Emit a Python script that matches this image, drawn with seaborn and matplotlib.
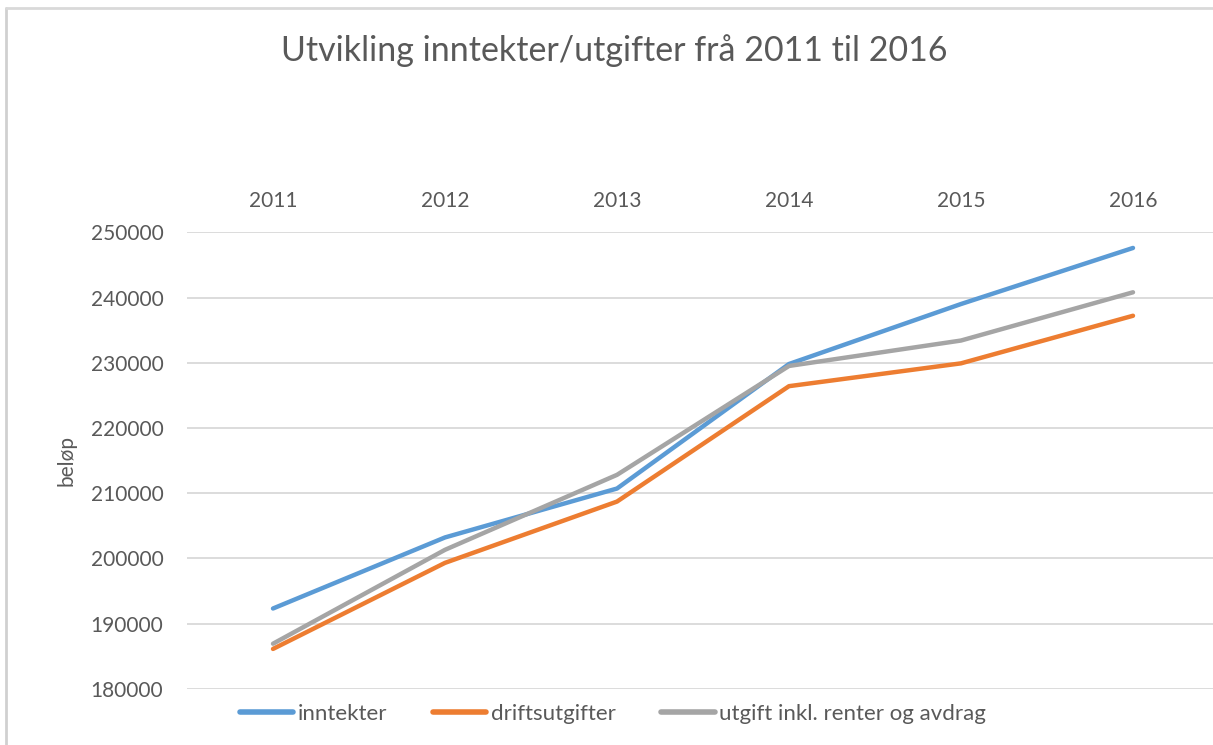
import matplotlib
matplotlib.use("Agg")
import matplotlib.pyplot as plt
import matplotlib.lines as mlines
import seaborn as sns
import pandas as pd

years = ["2011", "2012", "2013", "2014", "2015", "2016"]
inntekter = [192300, 203200, 210700, 229800, 239000, 247600]
driftsutgifter = [186100, 199300, 208700, 226400, 229900, 237200]
utgift_inkl = [186900, 201300, 212800, 229500, 233400, 240800]
series_names = ["inntekter", "driftsutgifter", "utgift inkl. renter og avdrag"]
colors = ["#5B9BD5", "#ED7D31", "#A5A5A5"]
yticks = [180000, 190000, 200000, 210000, 220000, 230000, 240000, 250000]

sns.set_theme(style="white")
plt.rcParams["font.family"] = ["Lato", "DejaVu Sans"]
TXT = "#595959"

rows = []
for name, vals in zip(series_names, [inntekter, driftsutgifter, utgift_inkl]):
    for i, (yr, v) in enumerate(zip(years, vals)):
        rows.append({"idx": i, "year": yr, "value": v, "serie": name})
df = pd.DataFrame(rows)

W, H = 1213, 745
fig = plt.figure(figsize=(W / 100, H / 100), dpi=100)
fig.patch.set_facecolor("white")

ax_left = 187 / W
ax_bottom = 1 - 688.7 / H
ax_top = 1 - 232.3 / H
ax = fig.add_axes([ax_left, ax_bottom, 1 - ax_left, ax_top - ax_bottom])

sns.lineplot(data=df, x="idx", y="value", hue="serie", hue_order=series_names,
             palette=colors, linewidth=3.2, ax=ax, legend=False, zorder=3)

ax.set_xlim(-0.5, (W - 273) / 172.0)
ax.set_ylim(180000, 250000)
ax.set_yticks(yticks)
ax.set_yticklabels([str(t) for t in yticks], fontsize=15, color=TXT)
ax.set_xticks(range(len(years)))
ax.set_xticklabels(years, fontsize=15, color=TXT)
ax.xaxis.tick_top()
ax.tick_params(axis="x", length=0, pad=15)
ax.tick_params(axis="y", length=0, pad=17)
ax.set_xlabel("")
ax.set_ylabel("beløp", fontsize=15, color=TXT, labelpad=10)
ax.grid(axis="y", color="#D9D9D9", linewidth=1.3, zorder=0)
ax.grid(axis="x", visible=False)
for s in ax.spines.values():
    s.set_visible(False)

fig.text(614 / W, 1 - 51 / H, "Utvikling inntekter/utgifter frå 2011 til 2016",
         ha="center", va="center", fontsize=24.5, color=TXT)

handles = [mlines.Line2D([], [], color=c, linewidth=4) for c in colors]
fig.legend(handles, series_names, loc="center", bbox_to_anchor=(613 / W, 1 - 714 / H),
           ncol=3, frameon=False, fontsize=16, handlelength=2.4, handletextpad=0.2,
           columnspacing=2.05, labelcolor=TXT)

# chart frame (left and top edges visible)
fig.add_artist(mlines.Line2D([6 / W, 6 / W], [0, 1 - 8 / H], transform=fig.transFigure,
                             color="#D0D0D0", linewidth=2))
fig.add_artist(mlines.Line2D([6 / W, 1], [1 - 8 / H, 1 - 8 / H], transform=fig.transFigure,
                             color="#D9D9D9", linewidth=2))

fig.savefig("out.png", dpi=100, facecolor="white")
